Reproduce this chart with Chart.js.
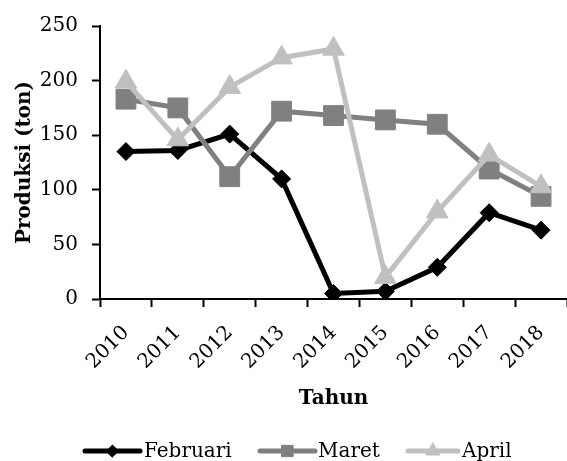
<!DOCTYPE html>
<html>
<head>
<meta charset="utf-8">
<script src="https://cdn.jsdelivr.net/npm/chart.js@4/dist/chart.umd.min.js"></script>
<style>
  html, body { margin: 0; padding: 0; background: #ffffff; }
  #wrap { width: 567px; height: 461px; position: relative; }
</style>
</head>
<body>
<div id="wrap"><canvas id="c" width="567" height="461"></canvas></div>
<script>
// Produksi per bulan, 2010–2018 (ton)
const years = ['2010', '2011', '2012', '2013', '2014', '2015', '2016', '2017', '2018'];
const februari = [135, 136, 151, 110, 5, 7, 29, 79, 63];
const maret = [183, 175, 112, 172, 168, 164, 160, 119, 94];
const april = [199, 146, 194, 221, 229, 20, 80, 132, 103];
const yTicks = [0, 50, 100, 150, 200, 250];

const FONT = "'DejaVu Serif', serif";

// Legend drawn as line + marker samples, like the series themselves
const lineLegend = {
  id: 'lineLegend',
  afterDraw(chart) {
    const ctx = chart.ctx;
    const y = 451;
    const items = [
      { ds: 0, x0: 85, x1: 140, tx: 144, r: 6 },
      { ds: 1, x0: 260, x1: 315, tx: 318, r: 8 },
      { ds: 2, x0: 408, x1: 458, tx: 462, r: 8 }
    ];
    ctx.save();
    items.forEach(it => {
      const d = chart.data.datasets[it.ds];
      ctx.strokeStyle = d.borderColor;
      ctx.lineWidth = 5;
      ctx.lineCap = 'round';
      ctx.beginPath();
      ctx.moveTo(it.x0, y);
      ctx.lineTo(it.x1, y);
      ctx.stroke();
      ctx.fillStyle = d.pointBackgroundColor;
      ctx.strokeStyle = d.pointBorderColor;
      ctx.lineWidth = 1;
      Chart.helpers.drawPoint(ctx, {
        pointStyle: d.pointStyle, rotation: 0, borderWidth: 1, radius: it.r
      }, (it.x0 + it.x1) / 2, y);
      ctx.fillStyle = '#000000';
      ctx.font = '20px ' + FONT;
      ctx.textAlign = 'left';
      ctx.textBaseline = 'alphabetic';
      ctx.fillText(d.label, it.tx, 457);
    });
    ctx.restore();
  }
};

function series(label, data, color, style, radius, order) {
  return {
    label: label, data: data,
    borderColor: color, backgroundColor: color,
    pointBackgroundColor: color, pointBorderColor: color, pointBorderWidth: 1,
    borderWidth: 5, pointStyle: style, pointRadius: radius, pointHoverRadius: radius,
    tension: 0, order: order
  };
}

// Rotated year labels end inside the plot, so the axis needs no side padding
function noSidePadding(scale) {
  scale.getPadding = () => ({ left: 0, top: 0, right: 0, bottom: 0 });
}

new Chart(document.getElementById('c'), {
  type: 'line',
  data: {
    labels: years,
    datasets: [
      series('Februari', februari, '#000000', 'rectRot', 9, 2),
      series('Maret', maret, '#808080', 'rect', 14, 1),
      series('April', april, '#c0c0c0', 'triangle', 12.5, 0)
    ]
  },
  options: {
    responsive: false, animation: false, devicePixelRatio: 1,
    layout: { autoPadding: false, padding: { top: 25, right: 0, bottom: 50, left: 0 } },
    plugins: { legend: { display: false }, tooltip: { enabled: false } },
    scales: {
      x: {
        offset: true,
        grid: { display: true, drawOnChartArea: false, drawTicks: true, tickLength: 8, tickWidth: 2, tickColor: '#000000', offset: true },
        border: { display: true, color: '#000000', width: 2 },
        ticks: { color: '#000000', font: { family: FONT, size: 20 }, maxRotation: 45, minRotation: 45, padding: 14, autoSkip: false },
        title: { display: true, text: 'Tahun', color: '#000000', font: { family: FONT, size: 20, weight: 'bold' }, padding: { top: 0, bottom: 0 } },
        beforeFit: noSidePadding,
        afterFit(scale) { scale.height = 112; }
      },
      y: {
        min: 0, max: 250,
        afterBuildTicks(scale) { scale.ticks = yTicks.map(v => ({ value: v })); },
        grid: { display: true, drawOnChartArea: false, drawTicks: true, tickLength: 8, tickWidth: 2, tickColor: '#000000' },
        border: { display: true, color: '#000000', width: 2 },
        ticks: { color: '#000000', font: { family: FONT, size: 20 }, padding: 14 },
        title: { display: true, text: 'Produksi (ton)', color: '#000000', font: { family: FONT, size: 20, weight: 'bold' }, padding: { top: 13, bottom: 0 } },
        afterFit(scale) { scale.width = 100; }
      }
    }
  },
  plugins: [lineLegend]
});
</script>
</body>
</html>
